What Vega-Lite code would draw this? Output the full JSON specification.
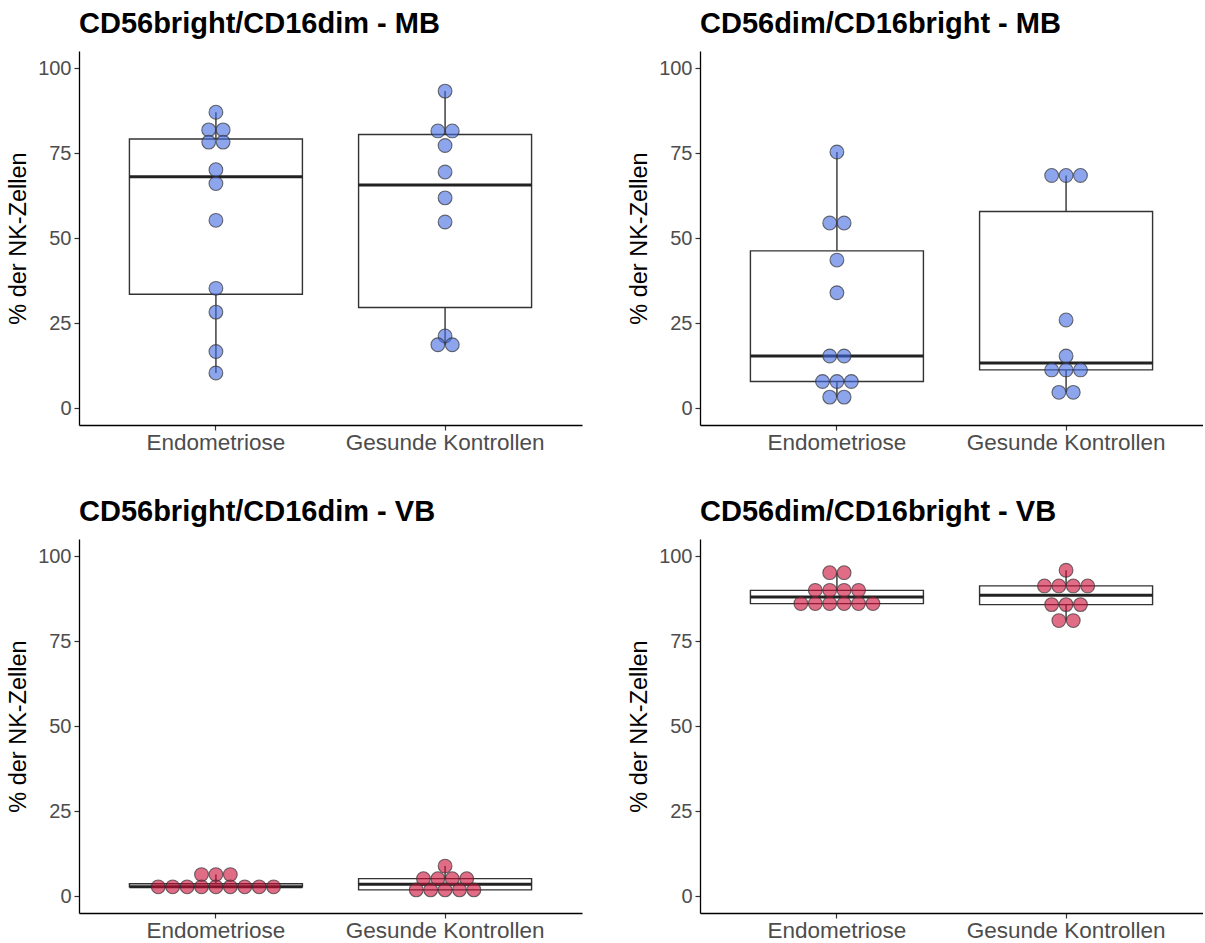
{
  "$schema": "https://vega.github.io/schema/vega-lite/v6.json",
  "padding": {"left": 6, "top": 10, "right": 0, "bottom": 0},
  "columns": 2,
  "spacing": {"row": 44, "column": 45},
  "concat": [
    {
      "title": "CD56bright/CD16dim - MB",
      "width": 503, "height": 374,
      "data": {"values": [
        {"group": "Endometriose", "value": 87.0},
        {"group": "Endometriose", "value": 81.8},
        {"group": "Endometriose", "value": 81.8},
        {"group": "Endometriose", "value": 78.2},
        {"group": "Endometriose", "value": 78.2},
        {"group": "Endometriose", "value": 70.1},
        {"group": "Endometriose", "value": 66.0},
        {"group": "Endometriose", "value": 55.2},
        {"group": "Endometriose", "value": 35.2},
        {"group": "Endometriose", "value": 28.2},
        {"group": "Endometriose", "value": 16.6},
        {"group": "Endometriose", "value": 10.3},
        {"group": "Gesunde Kontrollen", "value": 93.2},
        {"group": "Gesunde Kontrollen", "value": 81.5},
        {"group": "Gesunde Kontrollen", "value": 81.5},
        {"group": "Gesunde Kontrollen", "value": 77.2},
        {"group": "Gesunde Kontrollen", "value": 69.4},
        {"group": "Gesunde Kontrollen", "value": 61.8},
        {"group": "Gesunde Kontrollen", "value": 54.7},
        {"group": "Gesunde Kontrollen", "value": 21.2},
        {"group": "Gesunde Kontrollen", "value": 18.6},
        {"group": "Gesunde Kontrollen", "value": 18.6}
      ]},
      "layer": [
        {
          "mark": {"type": "boxplot", "extent": "min-max", "size": 173, "ticks": false,
            "box": {"fill": "white", "stroke": "#333333", "strokeWidth": 1.4},
            "median": {"color": "#222222", "thickness": 3, "opacity": 1},
            "rule": {"color": "#333333", "strokeWidth": 1.4}},
          "encoding": {
            "x": {"field": "group", "type": "nominal", "title": null, "scale": {"type": "band", "paddingInner": 0.245, "paddingOuter": 0.22}, "axis": {"labelAngle": 0}},
            "y": {"field": "value", "type": "quantitative", "title": "% der NK-Zellen", "scale": {"domain": [-5, 105], "nice": false, "zero": false}, "axis": {"values": [0, 25, 50, 75, 100]}}
          }
        },
        {
          "transform": [
            {"window": [{"op": "row_number", "as": "rn"}, {"op": "count", "as": "n"}], "groupby": ["group", "value"], "frame": [null, null]},
            {"calculate": "datum.rn - (datum.n + 1) / 2", "as": "slot"}
          ],
          "mark": {"type": "circle", "size": 190, "fill": "#4169E1", "fillOpacity": 0.6, "stroke": "#333333", "strokeOpacity": 0.7, "strokeWidth": 1.1},
          "encoding": {
            "x": {"field": "group", "type": "nominal"},
            "xOffset": {"field": "slot", "type": "quantitative", "scale": {"domain": [-6, 6], "range": [0, 173]}},
            "y": {"field": "value", "type": "quantitative"}
          }
        }
      ]
    },
    {
      "title": "CD56dim/CD16bright - MB",
      "width": 503, "height": 374,
      "data": {"values": [
        {"group": "Endometriose", "value": 75.3},
        {"group": "Endometriose", "value": 54.4},
        {"group": "Endometriose", "value": 54.4},
        {"group": "Endometriose", "value": 43.5},
        {"group": "Endometriose", "value": 33.9},
        {"group": "Endometriose", "value": 15.3},
        {"group": "Endometriose", "value": 15.3},
        {"group": "Endometriose", "value": 7.8},
        {"group": "Endometriose", "value": 7.8},
        {"group": "Endometriose", "value": 7.8},
        {"group": "Endometriose", "value": 3.2},
        {"group": "Endometriose", "value": 3.2},
        {"group": "Gesunde Kontrollen", "value": 68.4},
        {"group": "Gesunde Kontrollen", "value": 68.4},
        {"group": "Gesunde Kontrollen", "value": 68.4},
        {"group": "Gesunde Kontrollen", "value": 25.9},
        {"group": "Gesunde Kontrollen", "value": 15.3},
        {"group": "Gesunde Kontrollen", "value": 11.2},
        {"group": "Gesunde Kontrollen", "value": 11.2},
        {"group": "Gesunde Kontrollen", "value": 11.2},
        {"group": "Gesunde Kontrollen", "value": 4.6},
        {"group": "Gesunde Kontrollen", "value": 4.6}
      ]},
      "layer": [
        {
          "mark": {"type": "boxplot", "extent": "min-max", "size": 173, "ticks": false,
            "box": {"fill": "white", "stroke": "#333333", "strokeWidth": 1.4},
            "median": {"color": "#222222", "thickness": 3, "opacity": 1},
            "rule": {"color": "#333333", "strokeWidth": 1.4}},
          "encoding": {
            "x": {"field": "group", "type": "nominal", "title": null, "scale": {"type": "band", "paddingInner": 0.245, "paddingOuter": 0.22}, "axis": {"labelAngle": 0}},
            "y": {"field": "value", "type": "quantitative", "title": "% der NK-Zellen", "scale": {"domain": [-5, 105], "nice": false, "zero": false}, "axis": {"values": [0, 25, 50, 75, 100]}}
          }
        },
        {
          "transform": [
            {"window": [{"op": "row_number", "as": "rn"}, {"op": "count", "as": "n"}], "groupby": ["group", "value"], "frame": [null, null]},
            {"calculate": "datum.rn - (datum.n + 1) / 2", "as": "slot"}
          ],
          "mark": {"type": "circle", "size": 190, "fill": "#4169E1", "fillOpacity": 0.6, "stroke": "#333333", "strokeOpacity": 0.7, "strokeWidth": 1.1},
          "encoding": {
            "x": {"field": "group", "type": "nominal"},
            "xOffset": {"field": "slot", "type": "quantitative", "scale": {"domain": [-6, 6], "range": [0, 173]}},
            "y": {"field": "value", "type": "quantitative"}
          }
        }
      ]
    },
    {
      "title": "CD56bright/CD16dim - VB",
      "width": 503, "height": 374,
      "data": {"values": [
        {"group": "Endometriose", "value": 6.3},
        {"group": "Endometriose", "value": 6.3},
        {"group": "Endometriose", "value": 6.3},
        {"group": "Endometriose", "value": 2.7},
        {"group": "Endometriose", "value": 2.7},
        {"group": "Endometriose", "value": 2.7},
        {"group": "Endometriose", "value": 2.7},
        {"group": "Endometriose", "value": 2.7},
        {"group": "Endometriose", "value": 2.7},
        {"group": "Endometriose", "value": 2.7},
        {"group": "Endometriose", "value": 2.7},
        {"group": "Endometriose", "value": 2.7},
        {"group": "Gesunde Kontrollen", "value": 8.8},
        {"group": "Gesunde Kontrollen", "value": 5.1},
        {"group": "Gesunde Kontrollen", "value": 5.1},
        {"group": "Gesunde Kontrollen", "value": 5.1},
        {"group": "Gesunde Kontrollen", "value": 5.1},
        {"group": "Gesunde Kontrollen", "value": 1.8},
        {"group": "Gesunde Kontrollen", "value": 1.8},
        {"group": "Gesunde Kontrollen", "value": 1.8},
        {"group": "Gesunde Kontrollen", "value": 1.8},
        {"group": "Gesunde Kontrollen", "value": 1.8}
      ]},
      "layer": [
        {
          "mark": {"type": "boxplot", "extent": "min-max", "size": 173, "ticks": false,
            "box": {"fill": "white", "stroke": "#333333", "strokeWidth": 1.4},
            "median": {"color": "#222222", "thickness": 3, "opacity": 1},
            "rule": {"color": "#333333", "strokeWidth": 1.4}},
          "encoding": {
            "x": {"field": "group", "type": "nominal", "title": null, "scale": {"type": "band", "paddingInner": 0.245, "paddingOuter": 0.22}, "axis": {"labelAngle": 0}},
            "y": {"field": "value", "type": "quantitative", "title": "% der NK-Zellen", "scale": {"domain": [-5, 105], "nice": false, "zero": false}, "axis": {"values": [0, 25, 50, 75, 100]}}
          }
        },
        {
          "transform": [
            {"window": [{"op": "row_number", "as": "rn"}, {"op": "count", "as": "n"}], "groupby": ["group", "value"], "frame": [null, null]},
            {"calculate": "datum.rn - (datum.n + 1) / 2", "as": "slot"}
          ],
          "mark": {"type": "circle", "size": 190, "fill": "#CC0A36", "fillOpacity": 0.6, "stroke": "#333333", "strokeOpacity": 0.7, "strokeWidth": 1.1},
          "encoding": {
            "x": {"field": "group", "type": "nominal"},
            "xOffset": {"field": "slot", "type": "quantitative", "scale": {"domain": [-6, 6], "range": [0, 173]}},
            "y": {"field": "value", "type": "quantitative"}
          }
        }
      ]
    },
    {
      "title": "CD56dim/CD16bright - VB",
      "width": 503, "height": 374,
      "data": {"values": [
        {"group": "Endometriose", "value": 95.1},
        {"group": "Endometriose", "value": 95.1},
        {"group": "Endometriose", "value": 89.9},
        {"group": "Endometriose", "value": 89.9},
        {"group": "Endometriose", "value": 89.9},
        {"group": "Endometriose", "value": 89.9},
        {"group": "Endometriose", "value": 86.0},
        {"group": "Endometriose", "value": 86.0},
        {"group": "Endometriose", "value": 86.0},
        {"group": "Endometriose", "value": 86.0},
        {"group": "Endometriose", "value": 86.0},
        {"group": "Endometriose", "value": 86.0},
        {"group": "Gesunde Kontrollen", "value": 95.8},
        {"group": "Gesunde Kontrollen", "value": 91.2},
        {"group": "Gesunde Kontrollen", "value": 91.2},
        {"group": "Gesunde Kontrollen", "value": 91.2},
        {"group": "Gesunde Kontrollen", "value": 91.2},
        {"group": "Gesunde Kontrollen", "value": 85.7},
        {"group": "Gesunde Kontrollen", "value": 85.7},
        {"group": "Gesunde Kontrollen", "value": 85.7},
        {"group": "Gesunde Kontrollen", "value": 81.0},
        {"group": "Gesunde Kontrollen", "value": 81.0}
      ]},
      "layer": [
        {
          "mark": {"type": "boxplot", "extent": "min-max", "size": 173, "ticks": false,
            "box": {"fill": "white", "stroke": "#333333", "strokeWidth": 1.4},
            "median": {"color": "#222222", "thickness": 3, "opacity": 1},
            "rule": {"color": "#333333", "strokeWidth": 1.4}},
          "encoding": {
            "x": {"field": "group", "type": "nominal", "title": null, "scale": {"type": "band", "paddingInner": 0.245, "paddingOuter": 0.22}, "axis": {"labelAngle": 0}},
            "y": {"field": "value", "type": "quantitative", "title": "% der NK-Zellen", "scale": {"domain": [-5, 105], "nice": false, "zero": false}, "axis": {"values": [0, 25, 50, 75, 100]}}
          }
        },
        {
          "transform": [
            {"window": [{"op": "row_number", "as": "rn"}, {"op": "count", "as": "n"}], "groupby": ["group", "value"], "frame": [null, null]},
            {"calculate": "datum.rn - (datum.n + 1) / 2", "as": "slot"}
          ],
          "mark": {"type": "circle", "size": 190, "fill": "#CC0A36", "fillOpacity": 0.6, "stroke": "#333333", "strokeOpacity": 0.7, "strokeWidth": 1.1},
          "encoding": {
            "x": {"field": "group", "type": "nominal"},
            "xOffset": {"field": "slot", "type": "quantitative", "scale": {"domain": [-6, 6], "range": [0, 173]}},
            "y": {"field": "value", "type": "quantitative"}
          }
        }
      ]
    }
  ],
  "config": {
    "font": "Liberation Sans",
    "view": {"stroke": null},
    "title": {"fontSize": 29, "fontWeight": "bold", "anchor": "start", "frame": "group", "color": "#000000", "offset": 12},
    "axis": {"grid": false, "domainColor": "#000000", "domainWidth": 1.3, "tickColor": "#333333", "tickWidth": 1.2, "tickSize": 5, "labelColor": "#4d4d4d", "titleColor": "#000000", "titleFontWeight": "normal", "titleFontSize": 23.5, "labelPadding": 3, "labelLimit": 400},
    "axisX": {"labelFontSize": 22.5, "labelPadding": 1},
    "axisY": {"labelFontSize": 20, "titlePadding": 7}
  }
}
